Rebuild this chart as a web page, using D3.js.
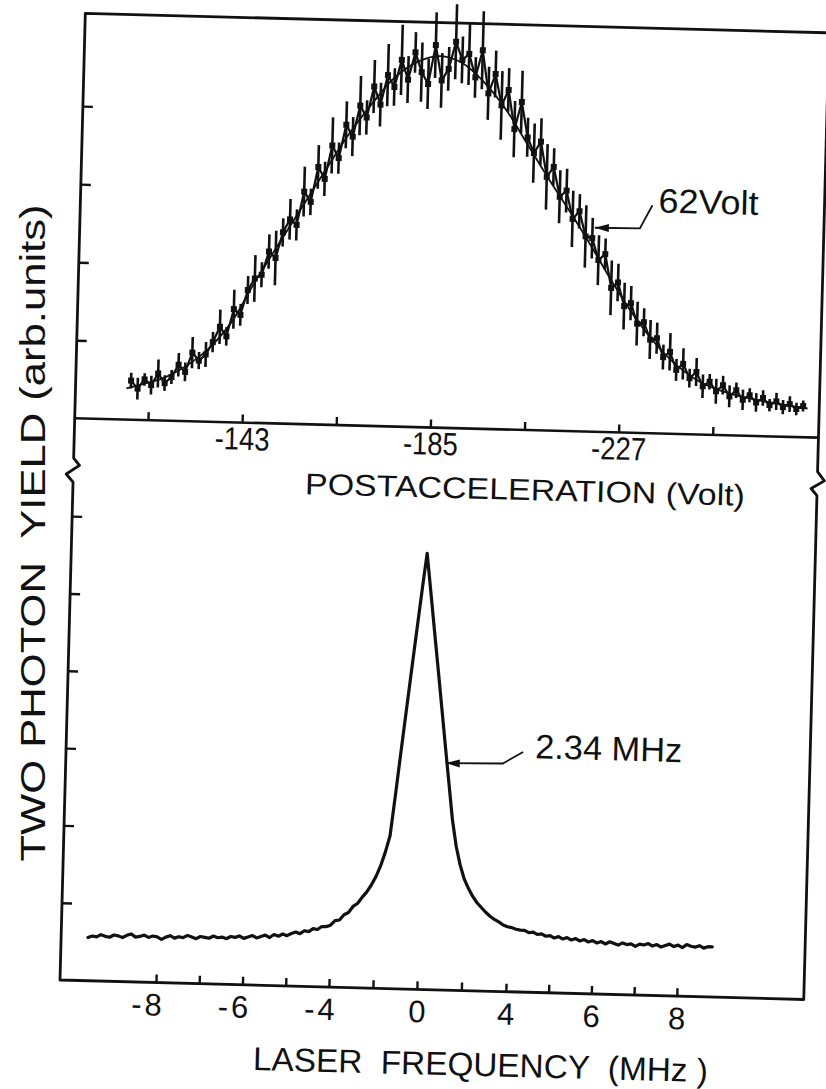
<!DOCTYPE html>
<html>
<head>
<meta charset="utf-8">
<script src="https://cdn.jsdelivr.net/npm/d3@7"></script>
<style>
  body { margin: 0; background: #fff; }
  text { font-family: "Liberation Sans", Arial, Helvetica, sans-serif; fill: #111; }
</style>
</head>
<body>
<svg id="chart"></svg>
<script>
// upper trace: yield vs postacceleration voltage (points with error bars)
const topVolt = [
  -118, -119.5, -121, -122.5, -124, -125.5, -127, -128.5, -130, -131.5,
  -133, -134.5, -136, -137.5, -139, -140.5, -142, -143.5, -145, -146.5,
  -148, -149.5, -151, -152.5, -154, -155.5, -157, -158.5, -160, -161.5,
  -163, -164.5, -166, -167.5, -169, -170.5, -172, -173.5, -175, -176.5,
  -178, -179.5, -181, -182.5, -184, -185.5, -187, -188.5, -190, -191.5,
  -193, -194.5, -196, -197.5, -199, -200.5, -202, -203.5, -205, -206.5,
  -208, -209.5, -211, -212.5, -214, -215.5, -217, -218.5, -220, -221.5,
  -223, -224.5, -226, -227.5, -229, -230.5, -232, -233.5, -235, -236.5,
  -238, -239.5, -241, -242.5, -244, -245.5, -247, -248.5, -250, -251.5,
  -253, -254.5, -256, -257.5, -259, -260.5, -262, -263.5, -265, -266.5, -268
]
const topYield = [
  0.50, 0.40, 0.52, 0.45, 0.60, 0.48, 0.56, 0.72, 0.63, 0.88,
  0.78, 0.86, 1.02, 1.22, 1.10, 1.45, 1.38, 1.70, 1.85, 1.90,
  2.20, 2.12, 2.45, 2.62, 2.55, 2.98, 2.85, 3.30, 3.15, 3.58,
  3.42, 3.85, 3.70, 4.10, 3.95, 4.35, 4.12, 4.50, 4.35, 4.70,
  4.45, 4.80, 4.55, 4.40, 4.90, 4.45, 4.60, 4.95, 4.72, 4.80,
  4.50, 4.85, 4.30, 4.55, 4.15, 4.35, 3.85, 4.20, 3.75, 3.55,
  3.70, 3.25, 3.38, 3.00, 3.08, 2.72, 2.82, 2.50, 2.48, 2.20,
  2.28, 1.85, 1.92, 1.62, 1.66, 1.40, 1.42, 1.20, 1.22, 0.98,
  1.05, 0.82, 0.90, 0.72, 0.80, 0.62, 0.68, 0.56, 0.64, 0.50,
  0.58, 0.46, 0.52, 0.43, 0.49, 0.40, 0.45, 0.38, 0.42, 0.36, 0.40
]
const topErr = [
  0.10, 0.14, 0.08, 0.12, 0.18, 0.10, 0.09, 0.15, 0.12, 0.20,
  0.11, 0.16, 0.13, 0.22, 0.12, 0.25, 0.14, 0.18, 0.30, 0.16,
  0.22, 0.35, 0.18, 0.26, 0.20, 0.32, 0.17, 0.28, 0.22, 0.36,
  0.20, 0.30, 0.25, 0.38, 0.22, 0.34, 0.28, 0.40, 0.24, 0.45,
  0.30, 0.26, 0.38, 0.32, 0.42, 0.35, 0.28, 0.48, 0.30, 0.40,
  0.26, 0.50, 0.34, 0.30, 0.44, 0.28, 0.36, 0.40, 0.25, 0.38,
  0.30, 0.42, 0.24, 0.34, 0.28, 0.36, 0.22, 0.40, 0.26, 0.32,
  0.20, 0.35, 0.24, 0.30, 0.22, 0.28, 0.18, 0.25, 0.20, 0.16,
  0.24, 0.14, 0.20, 0.12, 0.18, 0.15, 0.10, 0.16, 0.12, 0.14,
  0.10, 0.13, 0.09, 0.12, 0.10, 0.08, 0.11, 0.09, 0.10, 0.08, 0.07
]
// fitted curve through the upper trace
const fitVolt = [-117, -120, -125, -130, -135, -140, -145, -150, -155, -160, -165,
  -170, -175, -180, -185, -190, -195, -200, -205, -210, -215, -220, -225, -230,
  -235, -240, -245, -250, -255, -260, -265, -269]
const fitYield = [0.40, 0.45, 0.54, 0.70, 0.93, 1.28, 1.80, 2.29, 2.77, 3.25, 3.72,
  4.12, 4.47, 4.68, 4.76, 4.68, 4.44, 4.10, 3.66, 3.22, 2.80, 2.36, 1.90, 1.48,
  1.13, 0.86, 0.67, 0.56, 0.49, 0.44, 0.40, 0.37]

// lower trace: yield vs laser frequency
const laserFreq = [
  -9.6, -9.5, -9.4, -9.3, -9.2, -9.1, -9.0, -8.9, -8.8, -8.7,
  -8.6, -8.5, -8.4, -8.3, -8.2, -8.1, -8.0, -7.9, -7.8, -7.7,
  -7.6, -7.5, -7.4, -7.3, -7.2, -7.1, -7.0, -6.9, -6.8, -6.7,
  -6.6, -6.5, -6.4, -6.3, -6.2, -6.1, -6.0, -5.9, -5.8, -5.7,
  -5.6, -5.5, -5.4, -5.3, -5.2, -5.1, -5.0, -4.9, -4.8, -4.7,
  -4.6, -4.5, -4.4, -4.3, -4.2, -4.1,
  -4.0, -3.8, -3.6, -3.4, -3.2, -3.0, -2.8, -2.6, -2.4, -2.2,
  -2.0, -1.8, -1.6, -1.4, -1.2, -1.0, -0.8, -0.6, -0.4, -0.2,
  -0.05, 0.2, 0.4, 0.6, 0.8, 1.0, 1.2, 1.4, 1.6, 1.8,
  2.0, 2.2, 2.4, 2.6, 2.8, 3.0, 3.2, 3.4, 3.6, 3.8, 4.0,
  4.1, 4.2, 4.3, 4.4, 4.5, 4.6, 4.7, 4.8, 4.9, 5.0,
  5.1, 5.2, 5.3, 5.4, 5.5, 5.6, 5.7, 5.8, 5.9, 6.0,
  6.1, 6.2, 6.3, 6.4, 6.5, 6.6, 6.7, 6.8, 6.9, 7.0,
  7.1, 7.2, 7.3, 7.4, 7.5, 7.6, 7.7, 7.8, 7.9, 8.0,
  8.1, 8.2, 8.3, 8.4, 8.5, 8.6, 8.7, 8.8
]
const laserYield = [
  0.56, 0.58, 0.57, 0.60, 0.58, 0.57, 0.60, 0.59, 0.57, 0.60,
  0.62, 0.58, 0.59, 0.61, 0.58, 0.60, 0.59, 0.56, 0.59, 0.61,
  0.58, 0.60, 0.59, 0.62, 0.60, 0.58, 0.61, 0.60, 0.59, 0.62,
  0.60, 0.61, 0.59, 0.62, 0.61, 0.63, 0.60, 0.62, 0.64, 0.61,
  0.63, 0.65, 0.62, 0.66, 0.64, 0.67, 0.65, 0.68, 0.70, 0.68,
  0.72, 0.71, 0.75, 0.74, 0.78, 0.78,
  0.80, 0.86, 0.87, 0.94, 0.97, 1.05, 1.09, 1.17, 1.24, 1.33,
  1.44, 1.58, 1.76, 1.98, 2.52, 3.08, 3.63, 4.18, 4.72, 5.26,
  5.64, 5.05, 4.57, 4.10, 3.62, 3.14, 2.67, 2.20, 1.86, 1.62,
  1.44, 1.32, 1.22, 1.14, 1.08, 1.02, 0.97, 0.93, 0.90, 0.86, 0.84,
  0.83, 0.81, 0.80, 0.80, 0.77, 0.78, 0.75, 0.76, 0.73, 0.74,
  0.71, 0.73, 0.70, 0.72, 0.69, 0.71, 0.68, 0.70, 0.67, 0.69,
  0.66, 0.68, 0.65, 0.68, 0.66, 0.64, 0.67, 0.65, 0.66, 0.63,
  0.66, 0.65, 0.67, 0.64, 0.66, 0.63, 0.65, 0.67, 0.64, 0.66,
  0.63, 0.67, 0.65, 0.64, 0.66, 0.63, 0.65, 0.65
]

const voltTicks = [-122, -143, -164, -185, -206, -227, -248]
const voltLabels = [-143, -185, -227]
const freqTicks = [-8, -7, -6, -5, -4, -2, 0, 2, 4, 5, 6, 7, 8]
const freqLabels = [-8, -6, -4, 0, 4, 6, 8]

const width = 826, height = 1089
const frameLeft = 60, frameRight = 804, frameTop = 13, frameMid = 418, frameBottom = 980
const ink = "#111"

const svg = d3.select("#chart")
  .attr("width", width)
  .attr("height", height)

svg.append("rect").attr("width", width).attr("height", height).attr("fill", "#fff")

// the original scan is tilted by about 1.5 degrees
const g = svg.append("g").attr("transform", `rotate(1.5, ${frameLeft}, ${frameBottom})`)

// scales
const xTop = d3.scaleLinear().domain([-105.65, -271.6]).range([frameLeft, frameRight])
const yTop = d3.scaleLinear().domain([0, 5.19]).range([frameMid, frameTop])
// frequency axis is not uniform: inner ticks are 2 MHz apart, outer ones 1 MHz
const xBot = d3.scaleLinear().domain([-8, -4, 0, 4, 8]).range([156, 329, 417, 506, 677])
const yBot = d3.scaleLinear().domain([0, 6]).range([frameBottom, 516])

// frame with axis breaks
const frame = d3.path()
frame.moveTo(frameLeft, frameBottom)
frame.lineTo(frameLeft, 482)
frame.lineTo(53, 474)
frame.lineTo(66, 465)
frame.lineTo(frameLeft, 458)
frame.lineTo(frameLeft, frameTop)
frame.lineTo(frameRight, frameTop)
frame.lineTo(frameRight, 452)
frame.lineTo(811, 461)
frame.lineTo(798, 469)
frame.lineTo(frameRight, 476)
frame.lineTo(frameRight, frameBottom)
frame.closePath()

g.append("path")
  .attr("d", frame.toString())
  .attr("fill", "none")
  .attr("stroke", ink)
  .attr("stroke-width", 2.8)
  .attr("stroke-linejoin", "round")

g.append("line")
  .attr("x1", frameLeft).attr("x2", frameRight)
  .attr("y1", frameMid).attr("y2", frameMid)
  .attr("stroke", ink)
  .attr("stroke-width", 2.6)

// axes
function styleAxis(sel, size) {
  sel.select(".domain").remove()
  sel.selectAll(".tick line").attr("stroke", ink).attr("stroke-width", 2.4)
  sel.selectAll(".tick text")
    .attr("fill", ink)
    .style("font-size", size + "px")
    .style("font-family", '"Liberation Sans", Arial, sans-serif')
}

const xTopAxis = d3.axisBottom(xTop)
  .tickValues(voltTicks)
  .tickSize(-8)
  .tickPadding(4.5)
  .tickFormat(d => voltLabels.includes(d) ? String(d) : "")

g.append("g")
  .attr("transform", `translate(0, ${frameMid})`)
  .call(xTopAxis)
  .call(s => styleAxis(s, 32))
  .selectAll(".tick text")
  .filter(d => voltLabels.includes(d))
  .attr("textLength", 55)
  .attr("lengthAdjust", "spacingAndGlyphs")

g.append("g")
  .attr("transform", `translate(${frameLeft}, 0)`)
  .call(d3.axisLeft(yTop).tickValues([1, 2, 3, 4]).tickSize(-10).tickFormat(""))
  .call(s => styleAxis(s, 10))

const xBotAxis = d3.axisBottom(xBot)
  .tickValues(freqTicks)
  .tickSize(-8)
  .tickPadding(11)
  .tickFormat(d => freqLabels.includes(d) ? String(d) : "")

g.append("g")
  .attr("transform", `translate(0, ${frameBottom})`)
  .call(xBotAxis)
  .call(s => styleAxis(s, 31))
  .selectAll(".tick text")
  .filter(d => d < 0)
  .attr("text-anchor", "end")
  .attr("x", 9)
  .style("letter-spacing", "3px")

g.append("g")
  .attr("transform", `translate(${frameLeft}, 0)`)
  .call(d3.axisLeft(yBot).tickValues([1, 2, 3, 4, 5, 6]).tickSize(-10).tickFormat(""))
  .call(s => styleAxis(s, 10))

// upper trace
const pts = topVolt.map((v, i) => ({ v: v, y: topYield[i], e: topErr[i] }))

// dense recorder points merge into a ragged band
g.append("path")
  .datum(pts)
  .attr("d", d3.line().x(d => xTop(d.v)).y(d => yTop(d.y)))
  .attr("fill", "none")
  .attr("stroke", ink)
  .attr("stroke-width", 2.2)
  .attr("stroke-linejoin", "round")

g.selectAll(".err")
  .data(pts)
  .enter()
  .append("line")
  .attr("class", "err")
  .attr("x1", d => xTop(d.v))
  .attr("x2", d => xTop(d.v))
  .attr("y1", d => yTop(d.y + d.e))
  .attr("y2", d => yTop(d.y - d.e))
  .attr("stroke", ink)
  .attr("stroke-width", 2.6)

g.selectAll(".pt")
  .data(pts)
  .enter()
  .append("rect")
  .attr("class", "pt")
  .attr("x", d => xTop(d.v) - 3)
  .attr("y", d => yTop(d.y) - 3)
  .attr("width", 6)
  .attr("height", 6)
  .attr("fill", ink)

const fit = fitVolt.map((v, i) => ({ v: v, y: fitYield[i] }))
g.append("path")
  .datum(fit)
  .attr("d", d3.line().x(d => xTop(d.v)).y(d => yTop(d.y)).curve(d3.curveCatmullRom))
  .attr("fill", "none")
  .attr("stroke", ink)
  .attr("stroke-width", 1.8)

// lower trace
const spec = laserFreq.map((f, i) => ({ f: f, y: laserYield[i] }))
g.append("path")
  .datum(spec)
  .attr("d", d3.line().x(d => xBot(d.f)).y(d => yBot(d.y)))
  .attr("fill", "none")
  .attr("stroke", ink)
  .attr("stroke-width", 3.2)
  .attr("stroke-linejoin", "round")
  .attr("stroke-linecap", "round")

// width annotations with arrows
function leader(tip, elbow, end) {
  g.append("path")
    .attr("d", d3.line()([tip, elbow, end]))
    .attr("fill", "none")
    .attr("stroke", ink)
    .attr("stroke-width", 1.8)
  g.append("path")
    .attr("d", d3.line()([tip, [tip[0] + 14, tip[1] - 4], [tip[0] + 14, tip[1] + 4]]) + "Z")
    .attr("fill", ink)
}

leader([575, 214], [620, 213.5], [632, 190])
g.append("text")
  .attr("x", 638).attr("y", 197)
  .style("font-size", "34px")
  .attr("textLength", 100)
  .attr("lengthAdjust", "spacingAndGlyphs")
  .text("62Volt")

leader([440, 753], [497, 752], [517, 740])
g.append("text")
  .attr("x", 529).attr("y", 746)
  .style("font-size", "34px")
  .attr("textLength", 147)
  .attr("lengthAdjust", "spacingAndGlyphs")
  .text("2.34 MHz")

// axis titles
g.append("text")
  .attr("x", 292).attr("y", 488)
  .style("font-size", "30px")
  .attr("textLength", 440)
  .attr("lengthAdjust", "spacingAndGlyphs")
  .text("POSTACCELERATION (Volt)")

g.append("text")
  .attr("x", 255).attr("y", 1065)
  .style("font-size", "33px")
  .style("white-space", "pre")
  .attr("textLength", 455)
  .attr("lengthAdjust", "spacingAndGlyphs")
  .text("LASER  FREQUENCY  (MHz )")

svg.append("text")
  .attr("transform", "translate(45, 533) rotate(-90)")
  .attr("text-anchor", "middle")
  .style("font-size", "35px")
  .style("white-space", "pre")
  .attr("textLength", 657)
  .attr("lengthAdjust", "spacingAndGlyphs")
  .text("TWO PHOTON  YIELD (arb.units)")
</script>
</body>
</html>
